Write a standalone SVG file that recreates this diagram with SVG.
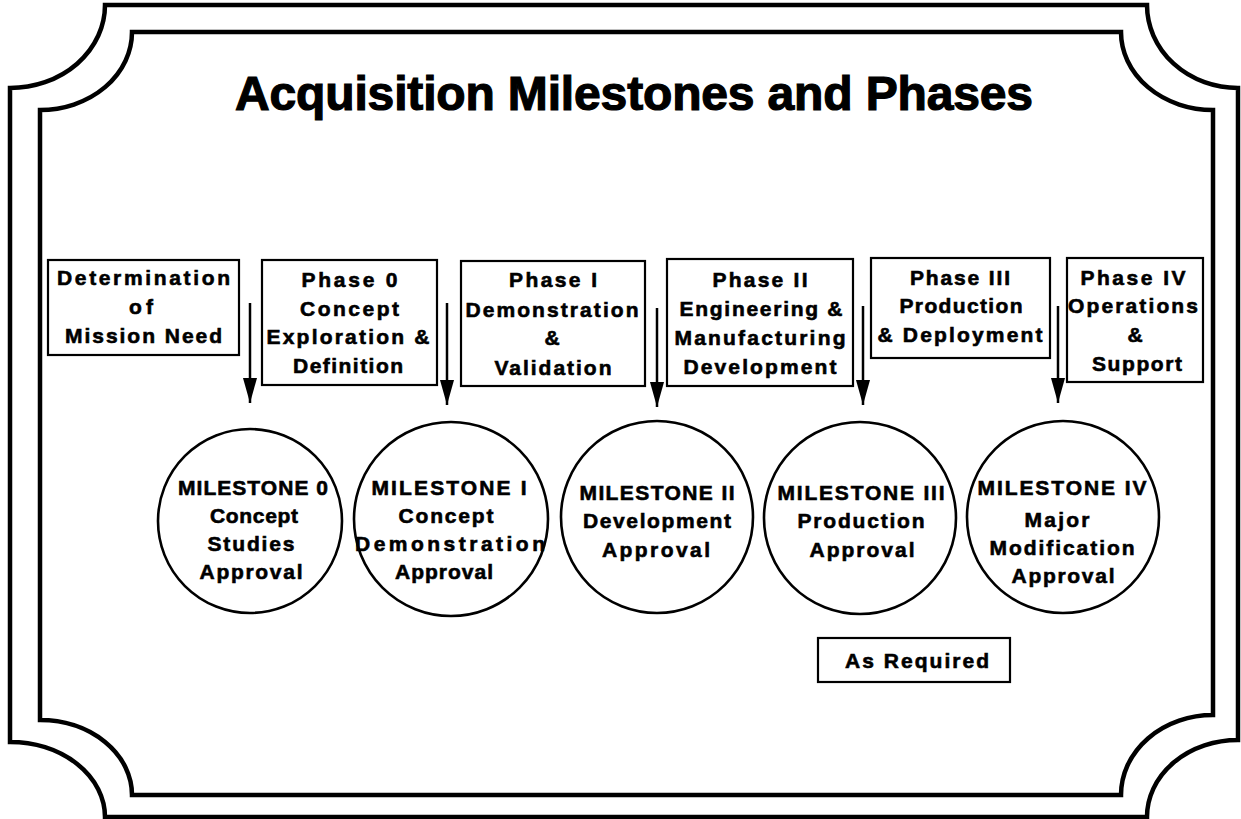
<svg xmlns="http://www.w3.org/2000/svg" width="1241" height="819" viewBox="0 0 1241 819">
<defs>
<style>
.frame{fill:none;stroke:#000;stroke-width:4.5;stroke-linejoin:miter}
.box{fill:#fff;stroke:#000;stroke-width:2.2}
.ms{fill:#fff;stroke:#000;stroke-width:2.6}
.t{font-family:"Liberation Sans",Arial,sans-serif;font-weight:bold;font-size:21px;fill:#000;stroke:#000;stroke-width:0.6;text-anchor:middle}
.title{font-family:"Liberation Sans",Arial,sans-serif;font-weight:bold;font-size:48px;fill:#000;stroke:#000;stroke-width:1.2}
.arr{stroke:#000;stroke-width:2.5;fill:none}
</style>
<marker id="ah" markerUnits="userSpaceOnUse" markerWidth="26" markerHeight="14" refX="25" refY="7" orient="auto" viewBox="0 0 26 14">
<path d="M0,0 L25,7 L0,14 Z" fill="#000"/>
</marker>
</defs>
<rect width="1241" height="819" fill="#fff"/>
<g id="frame">
<path class="frame" d="M10,88 A95,83 0 0 0 105,5 L1147,5 A91,83 0 0 0 1238,88 L1238,740 A91,77 0 0 0 1147,817 L105,817 A95,75 0 0 0 10,742 Z"/>
<path class="frame" d="M40,110 A92,78 0 0 0 132,32 L1121,32 A92,78 0 0 0 1213,110 L1213,715 A92,80 0 0 0 1121,795 L132,795 A92,75 0 0 0 40,720 Z"/>
</g>
<text id="title" class="title" x="235" y="110" textLength="798" lengthAdjust="spacing">Acquisition Milestones and Phases</text>
<g id="connectors">
<line class="arr" x1="250" y1="303" x2="250" y2="403" marker-end="url(#ah)"/>
<line class="arr" x1="447" y1="303" x2="447" y2="405" marker-end="url(#ah)"/>
<line class="arr" x1="657" y1="308" x2="657" y2="407" marker-end="url(#ah)"/>
<line class="arr" x1="863" y1="306" x2="863" y2="405" marker-end="url(#ah)"/>
<line class="arr" x1="1058" y1="306" x2="1058" y2="403" marker-end="url(#ah)"/>
</g>
<g id="box-mission-need">
<rect class="box" x="48" y="260" width="191" height="95"/>
<text class="t" x="143.5" y="285" textLength="173" lengthAdjust="spacing">Determination</text>
<text class="t" x="141" y="314" textLength="24" lengthAdjust="spacing">of</text>
<text class="t" x="143.5" y="343" textLength="157" lengthAdjust="spacing">Mission Need</text>
</g>
<g id="box-phase0">
<rect class="box" x="262" y="260" width="175" height="125"/>
<text class="t" x="349.5" y="287" textLength="96" lengthAdjust="spacing">Phase 0</text>
<text class="t" x="349.5" y="316" textLength="99" lengthAdjust="spacing">Concept</text>
<text class="t" x="348" y="344" textLength="163" lengthAdjust="spacing">Exploration &amp;</text>
<text class="t" x="348" y="373" textLength="110" lengthAdjust="spacing">Definition</text>
</g>
<g id="box-phase1">
<rect class="box" x="461" y="261" width="184" height="125"/>
<text class="t" x="553" y="287" textLength="88" lengthAdjust="spacing">Phase I</text>
<text class="t" x="552" y="317" textLength="173" lengthAdjust="spacing">Demonstration</text>
<text class="t" x="552" y="345">&amp;</text>
<text class="t" x="553" y="375" textLength="117" lengthAdjust="spacing">Validation</text>
</g>
<g id="box-phase2">
<rect class="box" x="667" y="259" width="186" height="127"/>
<text class="t" x="760" y="287" textLength="95" lengthAdjust="spacing">Phase II</text>
<text class="t" x="761" y="316" textLength="163" lengthAdjust="spacing">Engineering &amp;</text>
<text class="t" x="760" y="345" textLength="171" lengthAdjust="spacing">Manufacturing</text>
<text class="t" x="760" y="374" textLength="153" lengthAdjust="spacing">Development</text>
</g>
<g id="box-phase3">
<rect class="box" x="871" y="258" width="179" height="100"/>
<text class="t" x="960" y="285" textLength="100" lengthAdjust="spacing">Phase III</text>
<text class="t" x="961" y="313" textLength="123" lengthAdjust="spacing">Production</text>
<text class="t" x="960" y="342" textLength="165" lengthAdjust="spacing">&amp; Deployment</text>
</g>
<g id="box-phase4">
<rect class="box" x="1067" y="258" width="136" height="124"/>
<text class="t" x="1133" y="285" textLength="105" lengthAdjust="spacing">Phase IV</text>
<text class="t" x="1133" y="313" textLength="130" lengthAdjust="spacing">Operations</text>
<text class="t" x="1135" y="342">&amp;</text>
<text class="t" x="1137" y="371" textLength="90" lengthAdjust="spacing">Support</text>
</g>
<g id="milestone-0">
<circle class="ms" cx="250" cy="521" r="92"/>
<text class="t" x="253" y="495" textLength="150" lengthAdjust="spacing">MILESTONE 0</text>
<text class="t" x="254" y="523" textLength="88" lengthAdjust="spacing">Concept</text>
<text class="t" x="251" y="551" textLength="87" lengthAdjust="spacing">Studies</text>
<text class="t" x="251" y="579" textLength="103" lengthAdjust="spacing">Approval</text>
</g>
<g id="milestone-1">
<circle class="ms" cx="451" cy="519" r="97"/>
<text class="t" x="449" y="495" textLength="155" lengthAdjust="spacing">MILESTONE I</text>
<text class="t" x="446" y="523" textLength="95" lengthAdjust="spacing">Concept</text>
<text class="t" x="450" y="551" textLength="190" lengthAdjust="spacing">Demonstration</text>
<text class="t" x="444" y="579" textLength="98" lengthAdjust="spacing">Approval</text>
</g>
<g id="milestone-2">
<circle class="ms" cx="657" cy="517" r="96"/>
<text class="t" x="657" y="500" textLength="155" lengthAdjust="spacing">MILESTONE II</text>
<text class="t" x="657" y="528" textLength="148" lengthAdjust="spacing">Development</text>
<text class="t" x="656" y="557" textLength="108" lengthAdjust="spacing">Approval</text>
</g>
<g id="milestone-3">
<circle class="ms" cx="860" cy="518" r="96"/>
<text class="t" x="861" y="500" textLength="167" lengthAdjust="spacing">MILESTONE III</text>
<text class="t" x="861" y="528" textLength="127" lengthAdjust="spacing">Production</text>
<text class="t" x="862" y="557" textLength="105" lengthAdjust="spacing">Approval</text>
</g>
<g id="milestone-4">
<circle class="ms" cx="1063" cy="517" r="96"/>
<text class="t" x="1062" y="495" textLength="169" lengthAdjust="spacing">MILESTONE IV</text>
<text class="t" x="1057" y="527" textLength="65" lengthAdjust="spacing">Major</text>
<text class="t" x="1062" y="555" textLength="145" lengthAdjust="spacing">Modification</text>
<text class="t" x="1063" y="583" textLength="103" lengthAdjust="spacing">Approval</text>
</g>
<g id="as-required">
<rect class="box" x="818" y="638" width="192" height="44"/>
<text class="t" x="917" y="668" textLength="144" lengthAdjust="spacing">As Required</text>
</g>
</svg>
